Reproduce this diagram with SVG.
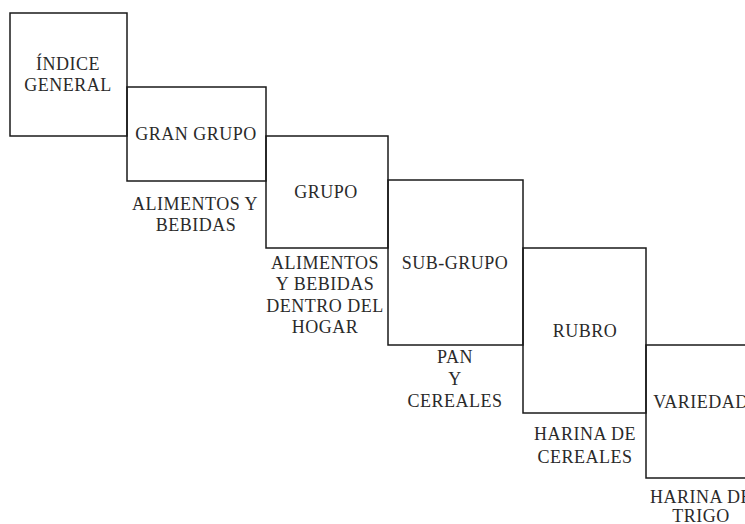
<svg xmlns="http://www.w3.org/2000/svg" width="745" height="524" viewBox="0 0 745 524">
<style>
.box{fill:none;stroke:#1a1a1a;stroke-width:1.5}
.t{font-family:"Liberation Serif","Times New Roman",serif;font-size:18px;letter-spacing:0.5px;fill:#2a2a2a;text-anchor:middle}
</style>
<rect width="745" height="524" fill="#fff"/>
<g id="connectors"/>
<g id="indice-general">
<rect class="box" x="10" y="13" width="117" height="123"/>
<text class="t" x="68" y="70">ÍNDICE</text>
<text class="t" x="68" y="91">GENERAL</text>
</g>
<g id="gran-grupo">
<rect class="box" x="127" y="87" width="139" height="94"/>
<text class="t" x="196" y="140">GRAN GRUPO</text>
<text class="t" x="195" y="210">ALIMENTOS Y</text>
<text class="t" x="196" y="231">BEBIDAS</text>
</g>
<g id="grupo">
<rect class="box" x="266" y="136" width="122" height="112"/>
<text class="t" x="326" y="198">GRUPO</text>
<text class="t" x="325" y="269">ALIMENTOS</text>
<text class="t" x="325" y="290">Y BEBIDAS</text>
<text class="t" x="325" y="312">DENTRO DEL</text>
<text class="t" x="325" y="333">HOGAR</text>
</g>
<g id="sub-grupo">
<rect class="box" x="388" y="180" width="135" height="165"/>
<text class="t" x="455" y="269">SUB-GRUPO</text>
<text class="t" x="455" y="363">PAN</text>
<text class="t" x="455" y="385">Y</text>
<text class="t" x="455" y="407">CEREALES</text>
</g>
<g id="rubro">
<rect class="box" x="523" y="248" width="123" height="165"/>
<text class="t" x="585" y="337">RUBRO</text>
<text class="t" x="585" y="440">HARINA DE</text>
<text class="t" x="585" y="463">CEREALES</text>
</g>
<g id="variedad">
<rect class="box" x="646" y="345" width="120" height="133"/>
<text class="t" x="701" y="408">VARIEDAD</text>
<text class="t" x="701" y="503">HARINA DE</text>
<text class="t" x="701" y="522">TRIGO</text>
</g>
</svg>
